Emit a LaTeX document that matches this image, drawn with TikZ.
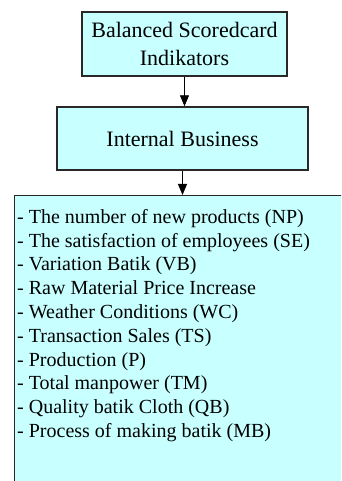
\documentclass[tikz,border=0pt]{standalone}
\usepackage{fontspec}
\newfontfamily\serifface{Liberation Serif}
\usetikzlibrary{arrows.meta}
\definecolor{boxfill}{RGB}{200,255,255}
\definecolor{boxline}{RGB}{40,40,40}
\begin{document}
\begin{tikzpicture}[x=1pt,y=1pt,
  box/.style={draw=boxline, line width=1.4pt, fill=boxfill, inner sep=0pt},
  conn/.style={draw=black, line width=0.9pt, -{Triangle[length=11pt,width=9pt]}}]
\useasboundingbox (0,0) rectangle (341,481);
\clip (0,0) rectangle (341,481);
\node[box, minimum width=205pt, minimum height=64pt, align=center,
      font=\serifface\fontsize{22}{28}\selectfont] (top) at (184.5,437)
  {Balanced Scoredcard\\Indikators};
\node[box, minimum width=251pt, minimum height=63pt,
      font=\serifface\fontsize{22}{28}\selectfont] (int) at (182.5,342.5)
  {Internal Business};
\node[box, anchor=north west, minimum width=350pt, minimum height=310pt] (list) at (14,286) {};
\node[anchor=north west, align=left, inner sep=0pt,
      font=\serifface\fontsize{20}{23.8}\selectfont] (items) at (17,272)
  {- The number of new products (NP)\\
   - The satisfaction of employees (SE)\\
   - Variation Batik (VB)\\
   - Raw Material Price Increase\\
   - Weather Conditions (WC)\\
   - Transaction Sales (TS)\\
   - Production (P)\\
   - Total manpower (TM)\\
   - Quality batik Cloth (QB)\\
   - Process of making batik (MB)};
\draw[conn] (top.south) -- (top.south |- int.north);
\draw[conn] (int.south) -- (int.south |- list.north);
\end{tikzpicture}
\end{document}
